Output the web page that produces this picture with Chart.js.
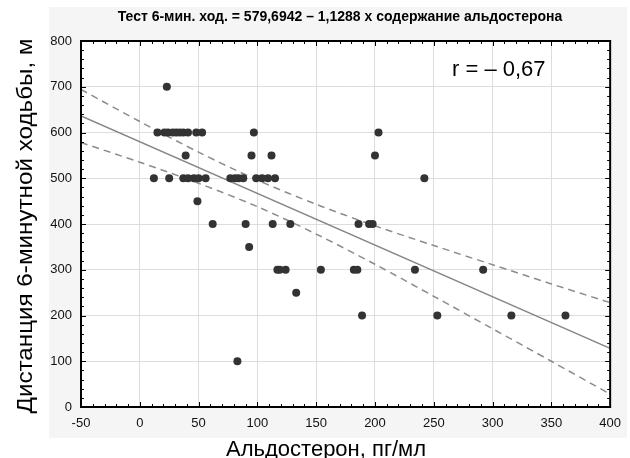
<!DOCTYPE html>
<html lang="ru">
<head>
<meta charset="utf-8">
<title>Альдостерон и тест 6-минутной ходьбы</title>
<script src="https://cdn.jsdelivr.net/npm/chart.js@4.4.1/dist/chart.umd.min.js"></script>
<style>
  html, body { margin: 0; padding: 0; background: #fff; }
  #wrap { width: 630px; height: 458px; position: relative; }
</style>
</head>
<body>
<div id="wrap"><canvas id="scatterChart" width="630" height="458"></canvas></div>
<script>
// точки: альдостерон (пг/мл) и дистанция (м)
const aldosterone = [
  23,
  15, 21, 24, 28, 31, 34, 37, 41, 48, 53, 97, 203,
  39, 95, 112, 200,
  12, 25, 37, 41, 46, 50, 56, 77, 81, 84, 88, 99, 104, 109, 115, 242,
  49,
  62, 90, 113, 128, 186, 195, 198,
  93,
  117, 119, 124, 154, 182, 185, 234, 292,
  133,
  189, 253, 316, 362,
  83,
];
const distance = [
  700,
  600, 600, 600, 600, 600, 600, 600, 600, 600, 600, 600, 600,
  550, 550, 550, 550,
  500, 500, 500, 500, 500, 500, 500, 500, 500, 500, 500, 500, 500, 500, 500, 500,
  450,
  400, 400, 400, 400, 400, 400, 400,
  350,
  300, 300, 300, 300, 300, 300, 300, 300,
  250,
  200, 200, 200, 200,
  100,
];

// линия регрессии и 95% доверительные границы
const regX = [-50, 400];
const regY = [636.1, 128.2];
const bandX = [-50, 0, 50, 100, 150, 200, 250, 300, 350, 400];
const bandUpper = [694, 624, 557, 496, 443, 396, 353, 311, 269, 228];
const bandLower = [578, 535, 489, 438, 378, 312, 242, 171, 100, 28];

const xTicks = [-50, 0, 50, 100, 150, 200, 250, 300, 350, 400];
const yTicks = [0, 100, 200, 300, 400, 500, 600, 700, 800];

const chartTitle = 'Тест 6-мин. ход. = 579,6942 – 1,1288 х содержание альдостерона';
const xTitle = 'Альдостерон, пг/мл';
const yTitle = 'Дистанция 6-минутной ходьбы, м';
const rLabel = 'r = – 0,67';

const toPoints = (xs, ys) => xs.map((x, i) => ({ x: x, y: ys[i] }));

const decorPlugin = {
  id: 'decor',
  beforeDraw: (chart) => {
    const ctx = chart.ctx;
    const area = chart.chartArea;
    ctx.save();
    ctx.fillStyle = '#ffffff';
    ctx.fillRect(0, 0, chart.width, chart.height);
    ctx.fillStyle = '#f5f5f5';
    ctx.fillRect(49, 7, 578, 431);
    ctx.fillStyle = '#ffffff';
    ctx.fillRect(area.left, area.top, area.right - area.left, area.bottom - area.top);
    ctx.restore();
  },
  afterDraw: (chart) => {
    const ctx = chart.ctx;
    const area = chart.chartArea;
    const xs = chart.scales.x;
    const ys = chart.scales.y;
    ctx.save();

    // мелкие засечки внутрь по всем сторонам
    ctx.strokeStyle = '#000';
    ctx.lineWidth = 1;
    ctx.beginPath();
    for (let v = -50; v <= 400; v += 10) {
      const px = Math.round(xs.getPixelForValue(v)) + 0.5;
      const len = v % 50 === 0 ? 5 : 3;
      ctx.moveTo(px, area.bottom);
      ctx.lineTo(px, area.bottom - len);
      ctx.moveTo(px, area.top);
      ctx.lineTo(px, area.top + len);
    }
    for (let v = 0; v <= 800; v += 20) {
      const py = Math.round(ys.getPixelForValue(v)) + 0.5;
      const len = v % 100 === 0 ? 5 : 3;
      ctx.moveTo(area.left, py);
      ctx.lineTo(area.left + len, py);
      ctx.moveTo(area.right, py);
      ctx.lineTo(area.right - len, py);
    }
    ctx.stroke();

    ctx.lineWidth = 2;
    ctx.strokeRect(area.left, area.top, area.right - area.left, area.bottom - area.top);

    ctx.fillStyle = '#000';
    ctx.textAlign = 'center';
    ctx.textBaseline = 'middle';
    ctx.font = 'bold 14px "Liberation Sans", Arial, sans-serif';
    ctx.fillText(chartTitle, 340, 17);

    ctx.font = '22px "Liberation Sans", Arial, sans-serif';
    ctx.textAlign = 'left';
    ctx.textBaseline = 'alphabetic';
    ctx.fillText(rLabel, 452, 76);

    ctx.textAlign = 'center';
    ctx.fillText(xTitle, 326, 456);

    ctx.translate(32, 226);
    ctx.rotate(-Math.PI / 2);
    ctx.scale(1.1, 1);
    ctx.fillText(yTitle, 0, 0);
    ctx.restore();
  },
};

document.addEventListener('DOMContentLoaded', () => {
  const canvas = document.getElementById('scatterChart');
  if (!canvas) {
    console.warn('Элемент scatterChart не найден.');
    return;
  }
  const ctx = canvas.getContext('2d');
  new Chart(ctx, {
    type: 'scatter',
    data: {
      datasets: [
        {
          label: 'Пациенты',
          data: toPoints(aldosterone, distance),
          backgroundColor: '#333333',
          borderWidth: 0,
          pointRadius: 4,
          order: 0,
        },
        {
          label: 'Регрессия',
          type: 'line',
          data: toPoints(regX, regY),
          borderColor: '#858585',
          borderWidth: 1.5,
          pointRadius: 0,
          fill: false,
          order: 1,
        },
        {
          label: 'Верхняя граница',
          type: 'line',
          data: toPoints(bandX, bandUpper),
          borderColor: '#8c8c8c',
          borderWidth: 1.5,
          borderDash: [7, 5],
          pointRadius: 0,
          tension: 0.3,
          fill: false,
          order: 2,
        },
        {
          label: 'Нижняя граница',
          type: 'line',
          data: toPoints(bandX, bandLower),
          borderColor: '#8c8c8c',
          borderWidth: 1.5,
          borderDash: [7, 5],
          pointRadius: 0,
          tension: 0.3,
          fill: false,
          order: 2,
        },
      ],
    },
    options: {
      responsive: false,
      animation: false,
      layout: { padding: { top: 41, right: 14, bottom: 0, left: 0 } },
      plugins: {
        legend: { display: false },
        tooltip: { enabled: false },
      },
      scales: {
        x: {
          type: 'linear',
          min: -50,
          max: 400,
          afterBuildTicks: (scale) => { scale.ticks = xTicks.map((v) => ({ value: v })); },
          afterFit: (scale) => { scale.height = 51; },
          grid: { color: '#dddddd', lineWidth: 1, drawTicks: false },
          border: { display: false },
          ticks: {
            padding: 9,
            color: '#111',
            font: { family: '"Liberation Sans", Arial, sans-serif', size: 13 },
          },
        },
        y: {
          min: 0,
          max: 800,
          afterBuildTicks: (scale) => { scale.ticks = yTicks.map((v) => ({ value: v })); },
          afterFit: (scale) => { scale.width = 81; },
          grid: { color: '#dddddd', lineWidth: 1, drawTicks: false },
          border: { display: false },
          ticks: {
            padding: 9,
            color: '#111',
            font: { family: '"Liberation Sans", Arial, sans-serif', size: 13 },
          },
        },
      },
    },
    plugins: [decorPlugin],
  });
});
</script>
</body>
</html>
